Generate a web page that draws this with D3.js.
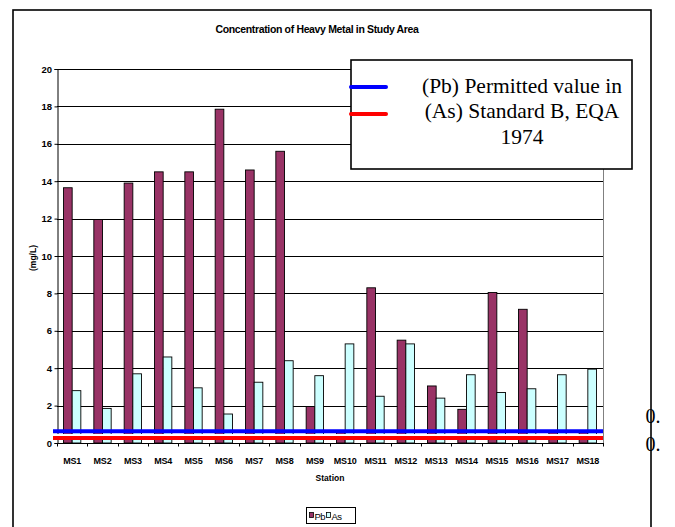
<!DOCTYPE html>
<html>
<head>
<meta charset="utf-8">
<script src="https://cdn.jsdelivr.net/npm/d3@7"></script>
<style>
  html, body { margin: 0; padding: 0; background: #fff; }
  svg { display: block; font-family: "Liberation Sans", Arial, sans-serif; }
</style>
</head>
<body>
<svg id="chart" width="675" height="527"></svg>
<script>
// Heavy metal concentrations (mg/L) at each sampling station
const stations = ["MS1","MS2","MS3","MS4","MS5","MS6","MS7","MS8","MS9","MS10",
                  "MS11","MS12","MS13","MS14","MS15","MS16","MS17","MS18"];
const pbValues = [13.65, 11.95, 13.9, 14.5, 14.5, 17.85, 14.6, 15.6, 1.95, 0.6,
                  8.3, 5.5, 3.05, 1.8, 8.05, 7.15, 0.6, 0.6];
const asValues = [2.8, 1.85, 3.7, 4.6, 2.95, 1.55, 3.25, 4.4, 3.6, 5.3,
                  2.5, 5.3, 2.4, 3.65, 2.7, 2.9, 3.65, 3.95];
const seriesNames = ["Pb", "As"];
const yTicks = [0, 2, 4, 6, 8, 10, 12, 14, 16, 18, 20];

// Permitted values (Standard B, EQA 1974) drawn as reference lines
const pbLimit = 0.63;
const asLimit = 0.27;
const legendLines = ["(Pb) Permitted value in", "(As) Standard B, EQA", "1974"];
const sideLabels = ["0.", "0."];

const colors = { Pb: "#993366", As: "#CCFFFF" };
const limitColors = { Pb: "#0000FF", As: "#FF0000" };
const serif = "'Liberation Serif', 'Times New Roman', serif";

const svg = d3.select("#chart");
const plot = { left: 57, right: 603, top: 69, bottom: 443 };

const x = d3.scaleBand().domain(stations).range([plot.left, plot.right]).paddingInner(0).paddingOuter(0);
const gap = 1.5; // gap width relative to a bar
const barW = x.bandwidth() / (seriesNames.length + gap);
const y = d3.scaleLinear().domain([0, 20]).range([plot.bottom, plot.top]);

// Outer chart frame
svg.append("rect")
  .attr("x", 13).attr("y", 10).attr("width", 638).attr("height", 540)
  .attr("fill", "none").attr("stroke", "#000").attr("stroke-width", 1.6);

// Title
svg.append("text")
  .attr("x", 317).attr("y", 33)
  .attr("text-anchor", "middle")
  .attr("font-size", 10.5).attr("font-weight", "bold")
  .attr("letter-spacing", -0.35)
  .text("Concentration of Heavy Metal in Study Area");

// Gridlines
svg.append("g")
  .selectAll("line")
  .data(yTicks.filter(d => d > 0))
  .join("line")
  .attr("x1", plot.left).attr("x2", plot.right)
  .attr("y1", d => Math.round(y(d)) + 0.5).attr("y2", d => Math.round(y(d)) + 0.5)
  .attr("stroke", "#000").attr("stroke-width", 1);

// Right edge of plot area
svg.append("line")
  .attr("x1", plot.right + 0.5).attr("x2", plot.right + 0.5)
  .attr("y1", plot.top).attr("y2", plot.bottom)
  .attr("stroke", "#808080");

// Bars
const groups = svg.append("g").selectAll("g")
  .data(stations.map((s, i) => ({ s, vals: [pbValues[i], asValues[i]] })))
  .join("g")
  .attr("transform", d => `translate(${x(d.s) + barW * gap / 2},0)`);

groups.selectAll("rect")
  .data(d => d.vals.map((v, k) => ({ v, k })))
  .join("rect")
  .attr("x", d => d.k * barW)
  .attr("y", d => y(d.v))
  .attr("width", barW)
  .attr("height", d => y(0) - y(d.v))
  .attr("fill", d => colors[seriesNames[d.k]])
  .attr("stroke", "#000").attr("stroke-width", 0.9);

// Y axis
const yAxis = d3.axisLeft(y).tickValues(yTicks).tickSize(3).tickFormat(d3.format("d"));
const gy = svg.append("g").attr("transform", `translate(${plot.left + 0.5},0)`).call(yAxis);
gy.select(".domain").attr("stroke", "#000");
gy.selectAll(".tick line").attr("stroke", "#000");
gy.selectAll(".tick text")
  .attr("x", -5.5)
  .attr("font-size", 9.5).attr("font-weight", "bold")
  .style("font-family", "'Liberation Sans', Arial, sans-serif")
  .attr("fill", "#000");

// X axis: ticks between categories
const gx = svg.append("g").attr("transform", `translate(0,${plot.bottom + 0.5})`);
gx.append("line")
  .attr("x1", plot.left).attr("x2", plot.right + 1)
  .attr("stroke", "#000");
gx.selectAll("line.tk")
  .data(stations.concat(["end"]))
  .join("line")
  .attr("class", "tk")
  .attr("x1", (d, i) => Math.round(plot.left + i * x.bandwidth()) + 0.5)
  .attr("x2", (d, i) => Math.round(plot.left + i * x.bandwidth()) + 0.5)
  .attr("y1", 0).attr("y2", 3)
  .attr("stroke", "#000");
gx.selectAll("text")
  .data(stations)
  .join("text")
  .attr("x", d => x(d) + x.bandwidth() / 2)
  .attr("y", 20)
  .attr("text-anchor", "middle")
  .attr("font-size", 9).attr("font-weight", "bold")
  .attr("letter-spacing", -0.2)
  .text(d => d);

// Axis titles
svg.append("text")
  .attr("x", (plot.left + plot.right) / 2).attr("y", 481)
  .attr("text-anchor", "middle")
  .attr("font-size", 8.5).attr("font-weight", "bold")
  .text("Station");
svg.append("text")
  .attr("transform", `translate(36,258) rotate(-90)`)
  .attr("text-anchor", "middle")
  .attr("font-size", 8.5).attr("font-weight", "bold")
  .text("(mg/L)");

// Permitted value lines
const limits = [
  { name: "Pb", v: pbLimit },
  { name: "As", v: asLimit }
];
svg.append("g").selectAll("line")
  .data(limits)
  .join("line")
  .attr("x1", 53).attr("x2", plot.right)
  .attr("y1", d => y(d.v)).attr("y2", d => y(d.v))
  .attr("stroke", d => limitColors[d.name])
  .attr("stroke-width", 4);
// thin white separation between the two limit lines
svg.append("line")
  .attr("x1", 53).attr("x2", plot.right)
  .attr("y1", (y(pbLimit) + y(asLimit)) / 2 + 0.3)
  .attr("y2", (y(pbLimit) + y(asLimit)) / 2 + 0.3)
  .attr("stroke", "#fff").attr("stroke-width", 2);

// Value labels at the right edge of the frame
svg.append("g")
  .selectAll("text")
  .data(sideLabels)
  .join("text")
  .attr("x", 645.5)
  .attr("y", (d, i) => 423 + i * 28)
  .style("font-family", serif)
  .attr("font-size", 20)
  .text(d => d);

// Reference line legend box
const lg = svg.append("g");
lg.append("rect")
  .attr("x", 351).attr("y", 60).attr("width", 281).attr("height", 109)
  .attr("fill", "#fff").attr("stroke", "#000").attr("stroke-width", 1.6);
lg.selectAll("line")
  .data(limits)
  .join("line")
  .attr("x1", 351).attr("x2", 386)
  .attr("y1", (d, i) => 87 + i * 27).attr("y2", (d, i) => 87 + i * 27)
  .attr("stroke", d => limitColors[d.name])
  .attr("stroke-width", 4).attr("stroke-linecap", "round");
lg.selectAll("text")
  .data(legendLines)
  .join("text")
  .attr("x", 522)
  .attr("y", (d, i) => 92.5 + i * 25.5)
  .attr("text-anchor", "middle")
  .style("font-family", serif)
  .attr("font-size", 21.5)
  .text(d => d);

// Series legend
const sl = svg.append("g");
sl.append("rect")
  .attr("x", 306.5).attr("y", 507.5).attr("width", 49).attr("height", 16)
  .attr("fill", "#fff").attr("stroke", "#000").attr("stroke-width", 1);
const items = [{ name: "Pb", x: 309 }, { name: "As", x: 326 }];
sl.selectAll("rect.sw")
  .data(items)
  .join("rect")
  .attr("class", "sw")
  .attr("x", d => d.x + 0.5).attr("y", 512.5)
  .attr("width", 4).attr("height", 5)
  .attr("fill", d => colors[d.name])
  .attr("stroke", "#000").attr("stroke-width", 0.8);
sl.selectAll("text")
  .data(items)
  .join("text")
  .attr("x", d => d.x + 5.5).attr("y", 519.5)
  .attr("font-size", 9.5)
  .attr("letter-spacing", -0.6)
  .text(d => d.name);
</script>
</body>
</html>
